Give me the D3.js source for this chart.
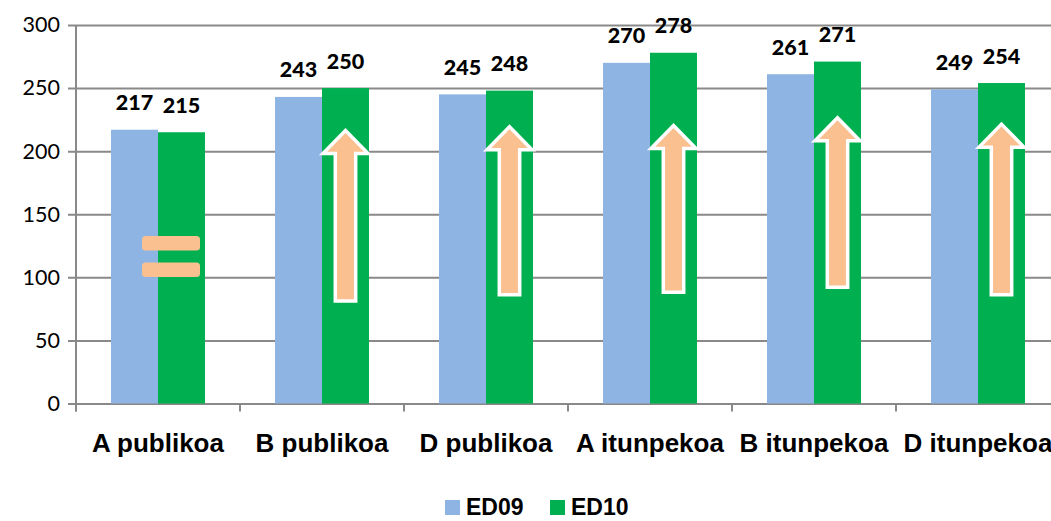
<!DOCTYPE html>
<html>
<head>
<meta charset="utf-8">
<script src="https://cdn.jsdelivr.net/npm/d3@7"></script>
<style>
  html, body { margin: 0; padding: 0; background: #fff; overflow: hidden; }
  svg { display: block; }
</style>
</head>
<body>
<svg id="chart" width="1051" height="521"></svg>
<script>
// ---- data ----
const categories = ["A publikoa", "B publikoa", "D publikoa", "A itunpekoa", "B itunpekoa", "D itunpekoa"];
const seriesNames = ["ED09", "ED10"];
const ed09 = [217, 243, 245, 270, 261, 249];
const ed10 = [215, 250, 248, 278, 271, 254];
const yTicks = [0, 50, 100, 150, 200, 250, 300];
// arrow annotations on ED10 bars (value units): [category, tip, bottom]
const arrowCats = ["B publikoa", "D publikoa", "A itunpekoa", "B itunpekoa", "D itunpekoa"];
const arrowTips = [218, 221, 222, 228, 223];
const arrowBottoms = [80, 85, 87, 91, 85];
// "equals" annotation on first category (value units of bar centres)
const equalsCat = "A publikoa";
const equalsLevels = [127, 106];

const colors = { ED09: "#8EB4E3", ED10: "#00B050" };
const gridColor = "#898989";

const svg = d3.select("#chart");
const plot = { left: 76, right: 1060, top: 25, bottom: 403.5 };

const x0 = d3.scaleBand().domain(categories).range([plot.left, plot.right]).paddingInner(0).paddingOuter(0);
const x1 = d3.scaleBand().domain(seriesNames).range([0, x0.bandwidth()]).paddingInner(0).paddingOuter(0.745);
const y = d3.scaleLinear().domain([0, 300]).range([plot.bottom, plot.top]);

// gridlines + y ticks
const yAxis = d3.axisLeft(y).tickValues(yTicks).tickSize(-(plot.right - plot.left)).tickSizeOuter(0).tickPadding(16);
const gy = svg.append("g").attr("transform", `translate(${plot.left},0)`).call(yAxis);
gy.select(".domain").remove();
gy.selectAll(".tick line")
  .attr("x1", -8)
  .attr("stroke", gridColor).attr("stroke-width", 2);
gy.selectAll(".tick text")
  .attr("fill", "#000")
  .style("font-family", "Lato, 'Open Sans', sans-serif")
  .style("font-size", "21.5px");

// bars
const rows = categories.map((c, i) => ({ cat: c, ED09: ed09[i], ED10: ed10[i] }));
const groups = svg.append("g").selectAll("g").data(rows).join("g")
  .attr("transform", d => `translate(${x0(d.cat)},0)`);
groups.selectAll("rect").data(d => seriesNames.map(s => ({ s, v: d[s] }))).join("rect")
  .attr("x", d => x1(d.s))
  .attr("width", x1.bandwidth())
  .attr("y", d => y(d.v))
  .attr("height", d => y(0) - y(d.v))
  .attr("fill", d => colors[d.s]);

// x axis (vertical axis line + category ticks)
const xTickPos = categories.map(c => x0(c)).concat([plot.right]);
svg.append("line")
  .attr("x1", plot.left).attr("x2", plot.left)
  .attr("y1", plot.top).attr("y2", plot.bottom + 8)
  .attr("stroke", gridColor).attr("stroke-width", 2);
svg.append("g").selectAll("line").data(xTickPos).join("line")
  .attr("x1", d => d).attr("x2", d => d)
  .attr("y1", plot.bottom).attr("y2", plot.bottom + 8)
  .attr("stroke", gridColor).attr("stroke-width", 2);

// annotations: equals sign
const eqCx = x0(equalsCat) + x1("ED10") + 13;
svg.append("g").selectAll("rect").data(equalsLevels).join("rect")
  .attr("x", eqCx - 29).attr("width", 58)
  .attr("y", d => y(d) - 7.3).attr("height", 14.6)
  .attr("rx", 3.5)
  .attr("fill", "#FAC090");

// annotations: up arrows
const arrows = arrowCats.map((c, i) => ({ cat: c, tip: arrowTips[i], bottom: arrowBottoms[i] }));
svg.append("g").selectAll("path").data(arrows).join("path")
  .attr("d", d => {
    const cx = x0(d.cat) + x1("ED10") + x1.bandwidth() / 2;
    const t = y(d.tip) + 2, b = y(d.bottom) - 1.5, hb = t + 23;
    const hw = 22.5, sw = 10.2;
    return `M${cx},${t} L${cx + hw},${hb} L${cx + sw},${hb} L${cx + sw},${b} L${cx - sw},${b} L${cx - sw},${hb} L${cx - hw},${hb} Z`;
  })
  .attr("fill", "#FAC090")
  .attr("stroke", "#fff").attr("stroke-width", 3.5)
  .attr("stroke-linejoin", "miter");

// data labels
groups.selectAll("text").data(d => seriesNames.map(s => ({ s, v: d[s] }))).join("text")
  .attr("x", d => x1(d.s) + x1.bandwidth() / 2)
  .attr("y", d => y(d.v) - 19.5)
  .attr("text-anchor", "middle")
  .style("font-family", "Lato, 'Open Sans', sans-serif")
  .style("font-weight", "900")
  .style("font-size", "21.5px")
  .attr("fill", "#000")
  .text(d => d.v);

// category labels
svg.append("g").selectAll("text").data(categories).join("text")
  .attr("x", d => x0(d) + x0.bandwidth() / 2)
  .attr("y", 452)
  .attr("text-anchor", "middle")
  .style("font-family", "'Liberation Sans', Arial, sans-serif")
  .style("font-weight", "bold")
  .style("font-size", "26px")
  .attr("fill", "#000")
  .text(d => d);

// legend
const legendX = [445, 550];
const lg = svg.append("g").selectAll("g").data(seriesNames).join("g")
  .attr("transform", (d, i) => `translate(${legendX[i]},500)`);
lg.append("rect").attr("width", 15).attr("height", 15).attr("fill", d => colors[d]);
lg.append("text")
  .attr("x", 21).attr("y", 15)
  .style("font-family", "'Liberation Sans', Arial, sans-serif")
  .style("font-weight", "bold")
  .style("font-size", "23px")
  .attr("fill", "#000")
  .text(d => d);
</script>
</body>
</html>
